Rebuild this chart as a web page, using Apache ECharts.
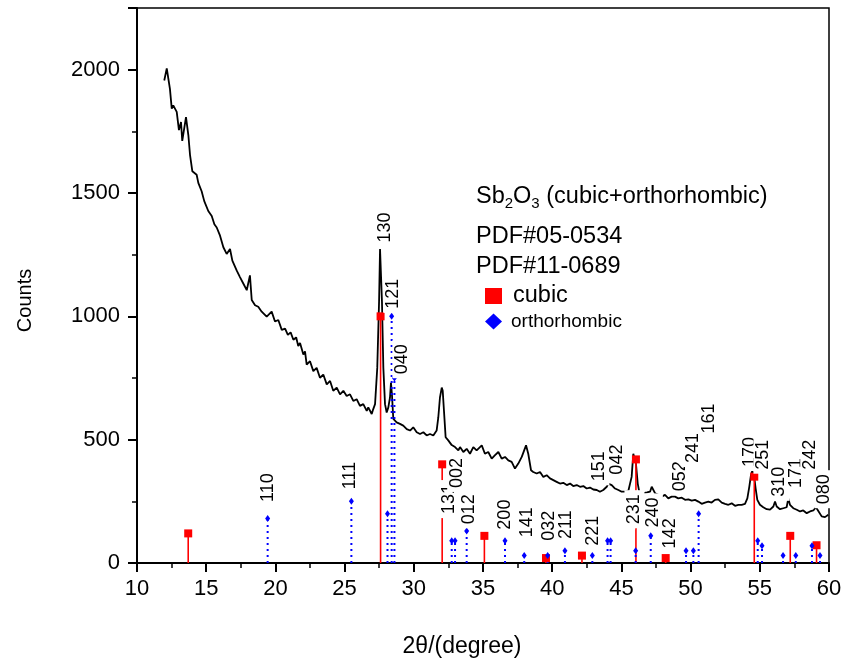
<!DOCTYPE html>
<html><head><meta charset="utf-8">
<script src="https://cdn.jsdelivr.net/npm/echarts/dist/echarts.min.js"></script>
<style>html,body{margin:0;padding:0;background:#fff}#c{width:845px;height:663px}</style>
</head><body><div id="c"></div>
<script>
// measured XRD pattern [2theta, counts]
const xrdPattern = [
[11.97,1956],[12.15,2005],[12.38,1922],[12.51,1842],[12.62,1855],[12.87,1829],[13.03,1755],[13.18,1788],[13.27,1711],[13.54,1808],
[13.71,1735],[13.83,1655],[14.00,1588],[14.14,1594],[14.31,1574],[14.43,1541],[14.67,1507],[14.86,1467],[15.15,1427],[15.40,1407],
[15.59,1373],[15.76,1360],[16.00,1327],[16.24,1280],[16.48,1253],[16.72,1273],[16.89,1226],[17.20,1186],[17.44,1159],[17.68,1133],
[17.93,1106],[18.16,1166],[18.29,1066],[18.53,1045],[18.76,1039],[19.01,1019],[19.37,999],[19.73,1019],[19.97,979],[20.21,985],
[20.46,945],[20.70,950],[20.90,925],[21.10,935],[21.30,905],[21.50,915],[21.65,880],[21.78,892],[22.02,845],[22.14,858],
[22.26,804],[22.50,818],[22.74,778],[22.98,791],[23.22,751],[23.46,764],[23.71,724],[23.95,738],[24.18,698],[24.43,711],
[24.67,684],[24.91,698],[25.15,677],[25.39,684],[25.63,657],[25.87,664],[26.11,637],[26.35,644],[26.60,617],[26.71,631],
[26.96,604],[27.07,624],[27.20,644],[27.36,791],[27.49,1059],[27.56,1273],[27.63,1280],[27.70,1059],[27.80,791],[27.92,644],
[28.04,610],[28.16,631],[28.28,671],[28.35,731],[28.42,684],[28.52,584],[28.76,570],[29.00,564],[29.24,557],[29.49,543],
[29.73,537],[29.96,550],[30.21,530],[30.45,523],[30.69,530],[30.93,517],[31.17,523],[31.41,517],[31.65,537],[31.77,590],
[31.89,671],[32.02,711],[32.09,698],[32.18,617],[32.30,510],[32.49,497],[32.62,500],[32.74,478],[32.86,483],[32.98,470],
[33.10,463],[33.22,457],[33.34,470],[33.58,450],[33.82,463],[34.06,443],[34.30,470],[34.54,457],[34.91,477],[35.14,443],
[35.38,450],[35.63,423],[35.87,437],[36.11,450],[36.35,423],[36.59,430],[36.83,416],[37.07,410],[37.31,383],[37.55,403],
[37.80,430],[38.11,477],[38.27,443],[38.47,376],[38.63,369],[38.88,363],[39.12,369],[39.36,349],[39.60,356],[39.84,343],
[40.08,336],[40.32,329],[40.56,322],[40.80,325],[41.05,316],[41.29,322],[41.52,312],[41.77,316],[42.01,309],[42.25,312],
[42.49,302],[42.73,306],[42.97,298],[43.22,296],[43.45,289],[43.69,296],[43.94,309],[44.05,322],[44.30,316],[44.54,302],
[44.78,296],[45.02,289],[45.26,289],[45.50,292],[45.62,296],[45.74,349],[45.86,443],[45.93,446],[46.05,403],[46.18,322],
[46.29,289],[46.58,283],[46.85,286],[47.07,289],[47.19,309],[47.43,283],[47.67,276],[47.91,269],[48.15,276],[48.39,262],
[48.63,269],[48.87,269],[49.11,262],[49.36,265],[49.60,256],[49.84,258],[50.08,253],[50.32,256],[50.56,249],[50.80,240],
[51.04,245],[51.28,249],[51.52,245],[51.76,256],[52.00,258],[52.25,245],[52.49,240],[52.73,236],[52.97,242],[53.21,232],
[53.45,236],[53.69,236],[53.93,240],[54.10,262],[54.24,309],[54.36,356],[54.46,376],[54.58,356],[54.70,302],[54.82,256],
[55.01,236],[55.25,226],[55.50,218],[55.74,216],[55.98,229],[56.10,249],[56.22,229],[56.46,218],[56.70,222],[56.94,226],
[57.06,262],[57.18,236],[57.42,222],[57.67,216],[57.91,209],[58.14,213],[58.39,202],[58.63,209],[58.87,213],[59.06,226],
[59.25,209],[59.47,189],[59.71,186],[59.95,196]
];
// reference sticks: cubic (PDF#05-0534)
const cubicPos = [13.7, 27.6, 32.05, 35.1, 39.55, 42.15, 46.05, 48.2, 54.6, 57.2, 59.1];
const cubicInt = [120, 1000, 400, 110, 20, 30, 420, 20, 350, 110, 72];
// reference sticks: orthorhombic (PDF#11-0689)
const orthoPos = [19.44, 25.49, 28.1, 28.4, 28.6, 32.74, 32.98, 33.82, 36.59, 37.98, 39.67, 40.92, 42.9, 44.0, 44.22, 46.03, 47.12, 49.67, 50.2, 50.58, 54.85, 55.16, 56.68, 57.6, 58.77, 59.35];
const orthoInt = [180, 250, 200, 1000, 750, 90, 90, 130, 90, 30, 30, 50, 30, 90, 90, 50, 110, 50, 50, 200, 90, 70, 30, 30, 70, 30];
// hkl annotations (text, anchor 2theta, anchor counts)
const hklText = ['130','121','040','110','111','131','002','012','200','141','032','211','221','151','042','231','240','142','052','241','161','170','251','310','171','242','080'];
const hklPos  = [27.99,28.57,29.22,19.47,25.46,32.56,33.17,34.01,36.66,38.23,39.84,41.05,43.02,43.45,44.75,45.98,47.31,48.58,49.28,50.19,51.40,54.34,55.30,56.46,57.67,58.68,59.71];
const hklAt   = [1297,1028,763,245,297,196,302,155,133,102,88,95,68,329,356,155,142,57,289,403,523,387,376,266,302,376,236];
const xTicks = {min: 10, max: 60, step: 5};
const yTicks = {min: 0, max: 2250, step: 500};

const FONT = '"Liberation Sans", Arial, sans-serif';

function stickSeries(name, xs, hs, color, dash, width) {
  return {
    type: 'custom', name: name, silent: true, z: 3,
    data: xs.map((x, i) => [x, hs[i]]),
    renderItem: function (params, api) {
      const p0 = api.coord([api.value(0), 0]);
      const p1 = api.coord([api.value(0), api.value(1)]);
      return { type: 'line', shape: {x1: p0[0], y1: p0[1], x2: p1[0], y2: p1[1]},
        style: {stroke: color, lineWidth: width, lineDash: dash} };
    }
  };
}

const chart = echarts.init(document.getElementById('c'), null, {renderer: 'canvas'});
chart.setOption({
  animation: false,
  backgroundColor: '#fff',
  grid: {left: 137, right: 16, top: 8, bottom: 96, show: true, borderColor: '#000', borderWidth: 1.5, backgroundColor: 'transparent'},
  xAxis: {
    type: 'value', min: xTicks.min, max: xTicks.max, interval: xTicks.step,
    axisLine: {onZero: false, lineStyle: {color: '#000', width: 2}},
    axisTick: {length: 9, lineStyle: {color: '#000', width: 2}},
    minorTick: {show: true, splitNumber: 2, length: 5, lineStyle: {color: '#000', width: 1.5}},
    splitLine: {show: false},
    axisLabel: {color: '#000', fontSize: 22, fontFamily: FONT, margin: 15},
    name: '2θ/(degree)', nameLocation: 'middle', nameGap: 72,
    nameTextStyle: {color: '#000', fontSize: 23, fontFamily: FONT, padding: [0, 42, 0, 0]}
  },
  yAxis: {
    type: 'value', min: yTicks.min, max: yTicks.max, interval: yTicks.step,
    axisLine: {show: true, lineStyle: {color: '#000', width: 2}},
    axisTick: {show: true, length: 9, lineStyle: {color: '#000', width: 2}},
    minorTick: {show: true, splitNumber: 2, length: 5, lineStyle: {color: '#000', width: 1.5}},
    splitLine: {show: false},
    axisLabel: {color: '#000', fontSize: 22, fontFamily: FONT, margin: 17,
      formatter: v => (v > 2000 ? '' : String(v))},
    name: 'Counts', nameLocation: 'middle', nameGap: 102,
    nameTextStyle: {color: '#000', fontSize: 20, fontFamily: FONT, padding: [0, 30, 0, 0]}
  },
  legend: {
    orient: 'vertical', left: 480, top: 279, itemWidth: 17, itemHeight: 16, itemGap: 4,
    selectedMode: false,
    data: [
      {name: 'cubic', icon: 'rect', itemStyle: {opacity: 1}, textStyle: {fontSize: 23.5, lineHeight: 16, padding: [0, 0, 0, 6]}},
      {name: 'orthorhombic', icon: 'diamond', itemStyle: {opacity: 1}, textStyle: {fontSize: 19, lineHeight: 16, padding: [0, 0, 0, 4]}}
    ],
    textStyle: {color: '#000', fontFamily: FONT}
  },
  graphic: [
    {type: 'text', left: 476, top: 185, z: 10, style: {
      text: '{a|Sb}{s|2}{a|O}{s|3}{a| (cubic+orthorhombic)}',
      rich: {
        a: {fontSize: 23.5, fontFamily: FONT, fill: '#000', lineHeight: 26, verticalAlign: 'top'},
        s: {fontSize: 15, fontFamily: FONT, fill: '#000', lineHeight: 22, padding: [10, 0, 0, 0], verticalAlign: 'bottom'}
      }}},
    {type: 'text', left: 476, top: 225, z: 10, style: {text: 'PDF#05-0534', fontSize: 23.5, fontFamily: FONT, fill: '#000'}},
    {type: 'text', left: 476, top: 255, z: 10, style: {text: 'PDF#11-0689', fontSize: 23.5, fontFamily: FONT, fill: '#000'}}
  ],
  series: [
    {type: 'line', name: 'pattern', data: xrdPattern, showSymbol: false, symbol: 'none', silent: true,
      lineStyle: {color: '#000', width: 1.8}, z: 2},
    stickSeries('cubic-stick', cubicPos, cubicInt, '#ff0000', null, 1.6),
    stickSeries('ortho-stick', orthoPos, orthoInt, '#0000ff', [2, 4], 2),
    {type: 'scatter', name: 'cubic', data: cubicPos.map((x, i) => [x, cubicInt[i]]), symbol: 'rect', symbolSize: 8,
      itemStyle: {color: '#ff0000', opacity: 1}, z: 4, silent: true},
    {type: 'scatter', name: 'orthorhombic', data: orthoPos.map((x, i) => [x, orthoInt[i]]), symbol: 'diamond', symbolSize: [5, 7],
      itemStyle: {color: '#0000ff', opacity: 1}, z: 4, silent: true},
    {type: 'scatter', name: 'hkl', silent: true, z: 6, zlevel: 1,
      data: hklPos.map((x, i) => [x, hklAt[i] - 16, hklText[i]]),
      symbolSize: 1, itemStyle: {color: '#fff', opacity: 1},
      label: {show: true, formatter: p => p.data[2], position: [0, 0], rotate: 90, align: 'left', verticalAlign: 'middle',
        color: '#000', opacity: 1, textBorderWidth: 0, fontSize: 18, fontFamily: FONT, backgroundColor: '#fff', padding: [1, 4]},
      labelLayout: {hideOverlap: false}
    }
  ]
});
</script></body></html>
